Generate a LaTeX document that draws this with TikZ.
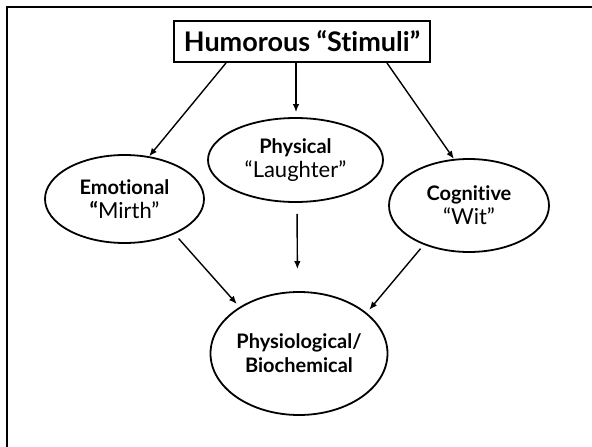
\documentclass[tikz,border=0pt]{standalone}
\usepackage{fontspec}
\setmainfont{Lato}[Ligatures=NoCommon]
\usetikzlibrary{shapes.geometric,arrows.meta,calc}
\tikzset{
  oval/.style={draw, ellipse, line width=1.8pt, inner sep=0pt, align=center, font=\fontsize{20}{24}\selectfont},
  titlebox/.style={draw, rectangle, line width=2pt, inner sep=0pt, font=\bfseries\fontsize{27}{30}\selectfont},
  conn/.style={line width=1.4pt, -{Latex[length=8pt,width=6.5pt]}},
  frame/.style={line width=2.2pt}
}
\newcommand{\bt}[1]{{\bfseries\fontsize{20}{24}\selectfont #1}}
\newcommand{\rt}[1]{{\fontsize{22}{24}\selectfont #1}}
\begin{document}
\begin{tikzpicture}[x=1pt,y=-1pt]
\useasboundingbox (0,0) rectangle (592,447);
\coordinate (fa) at (7,447);
\coordinate (fb) at (7,7);
\coordinate (fc) at (592,7);
\draw[frame] (fa) -- (fb) -- (fc);
\node[titlebox, minimum width=256pt, minimum height=41pt] (box) at (302,41.5) {Humorous “Stimuli”};
\node[oval, minimum width=159pt, minimum height=88pt] (emo) at (124.5,199) {\bt{Emotional}\\\rt{{\bfseries “}Mirth”}};
\node[oval, minimum width=175pt, minimum height=84pt] (phys) at (295.5,160) {\bt{Physical}\\\rt{“Laughter”}};
\node[oval, minimum width=160pt, minimum height=93pt] (cog) at (469,205.5) {\bt{Cognitive}\\\rt{“Wit”}};
\node[oval, minimum width=172pt, minimum height=123pt] (bio) at (299,353.5) {\bt{Physiological/}\\\bt{Biochemical}};
\draw[conn] ($(box.south)+(-76,0)$) -- (emo.60);
\draw[conn, shorten >=5pt] ($(box.south)+(-6,0)$) -- (phys.north -| {$(box.south)+(-6,0)$});
\draw[conn] ($(box.south)+(85,0)$) -- (cog.108);
\draw[conn, shorten <=11pt, shorten >=22pt] ($(phys.south)+(1.5,0)$) -- ($(bio.north)+(-1.5,0)$);
\draw[conn, shorten <=6pt, shorten >=4pt] (emo.-35.6) -- (bio.142.5);
\draw[conn, shorten <=5pt, shorten >=4pt] (cog.221) -- (bio.31.6);
\end{tikzpicture}
\end{document}
